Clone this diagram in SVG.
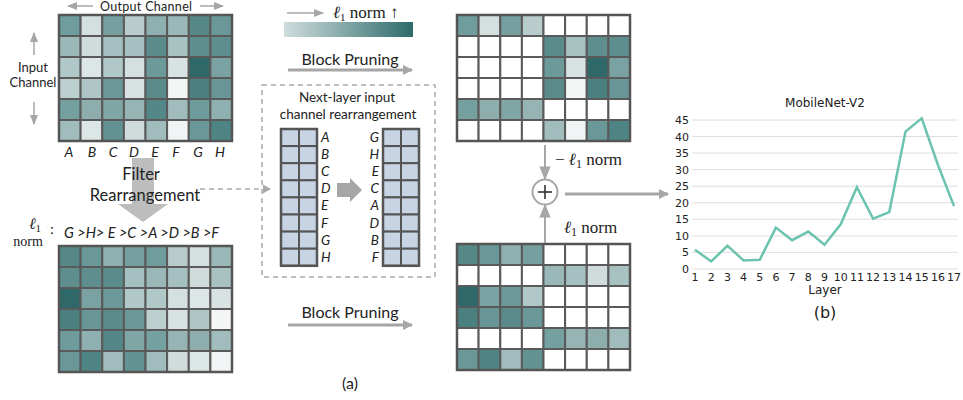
<svg xmlns="http://www.w3.org/2000/svg" width="963" height="400" viewBox="0 0 963 400">
<defs>
<style>
.c{stroke:#5a5a5a;stroke-width:2}
.b{fill:#c6d4e4;stroke:#555;stroke-width:2}
.lbl{font-family:Lato,"Liberation Sans",sans-serif;fill:#222}
.it{font-family:Lato,"Liberation Sans",sans-serif;font-style:italic;fill:#222}
.m{font-family:"Liberation Serif","DejaVu Serif",serif;fill:#222}
.ax{font-family:"DejaVu Sans",sans-serif;fill:#222}
.g{stroke:#dedede;stroke-width:1}
.ga{stroke:#a6a6a6;fill:none}
</style>
<marker id="ah" viewBox="0 0 10 10" refX="9" refY="5" markerWidth="3.4" markerHeight="3.4" orient="auto" markerUnits="strokeWidth"><path d="M0,0 L10,5 L0,10 z" fill="#a6a6a6"/></marker>
<marker id="ahs" viewBox="0 0 10 10" refX="9" refY="5" markerWidth="7" markerHeight="7" orient="auto" markerUnits="strokeWidth"><path d="M0,1 L10,5 L0,9 z" fill="#a6a6a6"/></marker>
<linearGradient id="grad" x1="0" x2="1" y1="0" y2="0"><stop offset="0" stop-color="#cfdddd"/><stop offset="1" stop-color="#2e6b6b"/></linearGradient>
</defs>
<rect width="963" height="400" fill="#fff"/>

<!-- Top-left matrix -->
<g id="matrix-original">
<text class="lbl" x="146" y="10.5" font-size="12.5" text-anchor="middle" textLength="92" lengthAdjust="spacing">Output Channel</text>
<text class="lbl" x="33" y="72" font-size="13" text-anchor="middle">Input</text>
<text class="lbl" x="33" y="87" font-size="13" text-anchor="middle">Channel</text>
<g transform="translate(59,15)">
<rect class="c" x="0" y="0" width="21.6" height="21" fill="#6f9c9c"/><rect class="c" x="21.6" y="0" width="21.6" height="21" fill="#d4e0e0"/><rect class="c" x="43.3" y="0" width="21.6" height="21" fill="#76a0a0"/><rect class="c" x="64.9" y="0" width="21.6" height="21" fill="#b8cccc"/><rect class="c" x="86.5" y="0" width="21.6" height="21" fill="#8fb0b0"/><rect class="c" x="108.1" y="0" width="21.6" height="21" fill="#9ab8b8"/><rect class="c" x="129.8" y="0" width="21.6" height="21" fill="#568888"/><rect class="c" x="151.4" y="0" width="21.6" height="21" fill="#6a9898"/>
<rect class="c" x="0" y="21" width="21.6" height="21" fill="#9ab8b8"/><rect class="c" x="21.6" y="21" width="21.6" height="21" fill="#d0dcdc"/><rect class="c" x="43.3" y="21" width="21.6" height="21" fill="#a4c0c0"/><rect class="c" x="64.9" y="21" width="21.6" height="21" fill="#a4c0c0"/><rect class="c" x="86.5" y="21" width="21.6" height="21" fill="#5a8c8c"/><rect class="c" x="108.1" y="21" width="21.6" height="21" fill="#a8c2c2"/><rect class="c" x="129.8" y="21" width="21.6" height="21" fill="#5e8e8e"/><rect class="c" x="151.4" y="21" width="21.6" height="21" fill="#5e8e8e"/>
<rect class="c" x="0" y="42" width="21.6" height="21" fill="#b0c8c8"/><rect class="c" x="21.6" y="42" width="21.6" height="21" fill="#dce6e6"/><rect class="c" x="43.3" y="42" width="21.6" height="21" fill="#b0c8c8"/><rect class="c" x="64.9" y="42" width="21.6" height="21" fill="#d4e0e0"/><rect class="c" x="86.5" y="42" width="21.6" height="21" fill="#6c9a9a"/><rect class="c" x="108.1" y="42" width="21.6" height="21" fill="#d8e2e2"/><rect class="c" x="129.8" y="42" width="21.6" height="21" fill="#2e6868"/><rect class="c" x="151.4" y="42" width="21.6" height="21" fill="#7aa2a2"/>
<rect class="c" x="0" y="63" width="21.6" height="21" fill="#bccfcf"/><rect class="c" x="21.6" y="63" width="21.6" height="21" fill="#b0c6c6"/><rect class="c" x="43.3" y="63" width="21.6" height="21" fill="#6a9898"/><rect class="c" x="64.9" y="63" width="21.6" height="21" fill="#d8e2e2"/><rect class="c" x="86.5" y="63" width="21.6" height="21" fill="#5a8a8a"/><rect class="c" x="108.1" y="63" width="21.6" height="21" fill="#f4f6f6"/><rect class="c" x="129.8" y="63" width="21.6" height="21" fill="#4a8080"/><rect class="c" x="151.4" y="63" width="21.6" height="21" fill="#689696"/>
<rect class="c" x="0" y="84" width="21.6" height="21" fill="#74a0a0"/><rect class="c" x="21.6" y="84" width="21.6" height="21" fill="#8eaeae"/><rect class="c" x="43.3" y="84" width="21.6" height="21" fill="#80a6a6"/><rect class="c" x="64.9" y="84" width="21.6" height="21" fill="#96b4b4"/><rect class="c" x="86.5" y="84" width="21.6" height="21" fill="#548888"/><rect class="c" x="108.1" y="84" width="21.6" height="21" fill="#a0bcbc"/><rect class="c" x="129.8" y="84" width="21.6" height="21" fill="#6e9c9c"/><rect class="c" x="151.4" y="84" width="21.6" height="21" fill="#8eb0b0"/>
<rect class="c" x="0" y="105" width="21.6" height="21" fill="#a0bcbc"/><rect class="c" x="21.6" y="105" width="21.6" height="21" fill="#dce6e6"/><rect class="c" x="43.3" y="105" width="21.6" height="21" fill="#629292"/><rect class="c" x="64.9" y="105" width="21.6" height="21" fill="#d0dcdc"/><rect class="c" x="86.5" y="105" width="21.6" height="21" fill="#a0bcbc"/><rect class="c" x="108.1" y="105" width="21.6" height="21" fill="#f0f4f4"/><rect class="c" x="129.8" y="105" width="21.6" height="21" fill="#6a9898"/><rect class="c" x="151.4" y="105" width="21.6" height="21" fill="#4e8484"/>
<rect x="0" y="0" width="173" height="126" fill="none" stroke="#555" stroke-width="2.5"/>
</g>
<g class="it" font-size="14" text-anchor="middle">
<text x="69" y="157">A</text><text x="92" y="157">B</text><text x="113" y="157">C</text><text x="134" y="157">D</text><text x="155" y="157">E</text><text x="176" y="157">F</text><text x="198" y="157">G</text><text x="220" y="157">H</text>
</g>
</g>

<!-- Bottom-left matrix (rearranged) -->
<g id="matrix-rearranged">
<text class="m" x="35" y="229" font-size="16" font-style="italic" text-anchor="middle">ℓ<tspan font-size="11" dy="3" font-style="normal">1</tspan></text>
<text class="m" x="28" y="246" font-size="14" text-anchor="middle">norm</text>
<text class="lbl" x="52" y="234" font-size="14" text-anchor="middle">:</text>
<text class="it" x="64" y="238" font-size="14.5">G &gt;H&gt; E &gt;C &gt;A &gt;D &gt;B &gt;F</text>
<g transform="translate(59,246)">
<rect class="c" x="0" y="0" width="21.6" height="21" fill="#568888"/><rect class="c" x="21.6" y="0" width="21.6" height="21" fill="#6a9898"/><rect class="c" x="43.3" y="0" width="21.6" height="21" fill="#8fb0b0"/><rect class="c" x="64.9" y="0" width="21.6" height="21" fill="#76a0a0"/><rect class="c" x="86.5" y="0" width="21.6" height="21" fill="#6f9c9c"/><rect class="c" x="108.1" y="0" width="21.6" height="21" fill="#b8cccc"/><rect class="c" x="129.8" y="0" width="21.6" height="21" fill="#d4e0e0"/><rect class="c" x="151.4" y="0" width="21.6" height="21" fill="#9ab8b8"/>
<rect class="c" x="0" y="21" width="21.6" height="21" fill="#5e8e8e"/><rect class="c" x="21.6" y="21" width="21.6" height="21" fill="#5e8e8e"/><rect class="c" x="43.3" y="21" width="21.6" height="21" fill="#5a8c8c"/><rect class="c" x="64.9" y="21" width="21.6" height="21" fill="#a4c0c0"/><rect class="c" x="86.5" y="21" width="21.6" height="21" fill="#9ab8b8"/><rect class="c" x="108.1" y="21" width="21.6" height="21" fill="#a4c0c0"/><rect class="c" x="129.8" y="21" width="21.6" height="21" fill="#d0dcdc"/><rect class="c" x="151.4" y="21" width="21.6" height="21" fill="#a8c2c2"/>
<rect class="c" x="0" y="42" width="21.6" height="21" fill="#2e6868"/><rect class="c" x="21.6" y="42" width="21.6" height="21" fill="#7aa2a2"/><rect class="c" x="43.3" y="42" width="21.6" height="21" fill="#6c9a9a"/><rect class="c" x="64.9" y="42" width="21.6" height="21" fill="#b0c8c8"/><rect class="c" x="86.5" y="42" width="21.6" height="21" fill="#b0c8c8"/><rect class="c" x="108.1" y="42" width="21.6" height="21" fill="#d4e0e0"/><rect class="c" x="129.8" y="42" width="21.6" height="21" fill="#dce6e6"/><rect class="c" x="151.4" y="42" width="21.6" height="21" fill="#d8e2e2"/>
<rect class="c" x="0" y="63" width="21.6" height="21" fill="#4a8080"/><rect class="c" x="21.6" y="63" width="21.6" height="21" fill="#689696"/><rect class="c" x="43.3" y="63" width="21.6" height="21" fill="#5a8a8a"/><rect class="c" x="64.9" y="63" width="21.6" height="21" fill="#6a9898"/><rect class="c" x="86.5" y="63" width="21.6" height="21" fill="#bccfcf"/><rect class="c" x="108.1" y="63" width="21.6" height="21" fill="#d8e2e2"/><rect class="c" x="129.8" y="63" width="21.6" height="21" fill="#b0c6c6"/><rect class="c" x="151.4" y="63" width="21.6" height="21" fill="#f4f6f6"/>
<rect class="c" x="0" y="84" width="21.6" height="21" fill="#6e9c9c"/><rect class="c" x="21.6" y="84" width="21.6" height="21" fill="#8eb0b0"/><rect class="c" x="43.3" y="84" width="21.6" height="21" fill="#548888"/><rect class="c" x="64.9" y="84" width="21.6" height="21" fill="#80a6a6"/><rect class="c" x="86.5" y="84" width="21.6" height="21" fill="#74a0a0"/><rect class="c" x="108.1" y="84" width="21.6" height="21" fill="#96b4b4"/><rect class="c" x="129.8" y="84" width="21.6" height="21" fill="#8eaeae"/><rect class="c" x="151.4" y="84" width="21.6" height="21" fill="#a0bcbc"/>
<rect class="c" x="0" y="105" width="21.6" height="21" fill="#6a9898"/><rect class="c" x="21.6" y="105" width="21.6" height="21" fill="#4e8484"/><rect class="c" x="43.3" y="105" width="21.6" height="21" fill="#a0bcbc"/><rect class="c" x="64.9" y="105" width="21.6" height="21" fill="#629292"/><rect class="c" x="86.5" y="105" width="21.6" height="21" fill="#a0bcbc"/><rect class="c" x="108.1" y="105" width="21.6" height="21" fill="#d0dcdc"/><rect class="c" x="129.8" y="105" width="21.6" height="21" fill="#dce6e6"/><rect class="c" x="151.4" y="105" width="21.6" height="21" fill="#f0f4f4"/>
<rect x="0" y="0" width="173" height="126" fill="none" stroke="#555" stroke-width="2.5"/>
</g>
</g>

<!-- Filter rearrangement block arrow -->
<g id="filter-rearrangement">
<polygon points="132,158 154,158 154,204 168,204 143,222 118,204 132,204" fill="#bdbdbd"/>
<text class="lbl" x="141" y="180" font-size="16.5" text-anchor="middle">Filter</text>
<text class="lbl" x="145" y="201" font-size="16.5" text-anchor="middle">Rearrangement</text>
</g>

<!-- Next-layer box -->
<g id="next-layer-box">
<rect x="262" y="85" width="173" height="192" fill="none" stroke="#aaa" stroke-width="1.5" stroke-dasharray="5,4"/>
<text class="lbl" x="347" y="102" font-size="13.5" text-anchor="middle">Next-layer input</text>
<text class="lbl" x="348" y="118.5" font-size="13.5" text-anchor="middle">channel rearrangement</text>
<g transform="translate(281,129)">
<rect class="b" x="0" y="0" width="18" height="17.1"/><rect class="b" x="18" y="0" width="18" height="17.1"/>
<rect class="b" x="0" y="17.1" width="18" height="17.1"/><rect class="b" x="18" y="17.1" width="18" height="17.1"/>
<rect class="b" x="0" y="34.2" width="18" height="17.1"/><rect class="b" x="18" y="34.2" width="18" height="17.1"/>
<rect class="b" x="0" y="51.3" width="18" height="17.1"/><rect class="b" x="18" y="51.3" width="18" height="17.1"/>
<rect class="b" x="0" y="68.4" width="18" height="17.1"/><rect class="b" x="18" y="68.4" width="18" height="17.1"/>
<rect class="b" x="0" y="85.5" width="18" height="17.1"/><rect class="b" x="18" y="85.5" width="18" height="17.1"/>
<rect class="b" x="0" y="102.6" width="18" height="17.1"/><rect class="b" x="18" y="102.6" width="18" height="17.1"/>
<rect class="b" x="0" y="119.7" width="18" height="17.1"/><rect class="b" x="18" y="119.7" width="18" height="17.1"/>
<rect x="0" y="0" width="36" height="136.8" fill="none" stroke="#555" stroke-width="2.5"/>
</g>
<g transform="translate(383,129)">
<rect class="b" x="0" y="0" width="18" height="17.1"/><rect class="b" x="18" y="0" width="18" height="17.1"/>
<rect class="b" x="0" y="17.1" width="18" height="17.1"/><rect class="b" x="18" y="17.1" width="18" height="17.1"/>
<rect class="b" x="0" y="34.2" width="18" height="17.1"/><rect class="b" x="18" y="34.2" width="18" height="17.1"/>
<rect class="b" x="0" y="51.3" width="18" height="17.1"/><rect class="b" x="18" y="51.3" width="18" height="17.1"/>
<rect class="b" x="0" y="68.4" width="18" height="17.1"/><rect class="b" x="18" y="68.4" width="18" height="17.1"/>
<rect class="b" x="0" y="85.5" width="18" height="17.1"/><rect class="b" x="18" y="85.5" width="18" height="17.1"/>
<rect class="b" x="0" y="102.6" width="18" height="17.1"/><rect class="b" x="18" y="102.6" width="18" height="17.1"/>
<rect class="b" x="0" y="119.7" width="18" height="17.1"/><rect class="b" x="18" y="119.7" width="18" height="17.1"/>
<rect x="0" y="0" width="36" height="136.8" fill="none" stroke="#555" stroke-width="2.5"/>
</g>
<g class="it" font-size="13.5">
<text x="321" y="142">A</text><text x="321" y="159">B</text><text x="321" y="176">C</text><text x="321" y="193">D</text><text x="321" y="210">E</text><text x="321" y="228">F</text><text x="321" y="245">G</text><text x="321" y="262">H</text>
</g>
<g class="it" font-size="13.5" text-anchor="end">
<text x="379" y="142">G</text><text x="379" y="159">H</text><text x="379" y="176">E</text><text x="379" y="193">C</text><text x="379" y="210">A</text><text x="379" y="228">D</text><text x="379" y="245">B</text><text x="379" y="262">F</text>
</g>
<polygon points="337,183 350,183 350,178 362,190 350,202 350,197 337,197" fill="#a6a6a6"/>
</g>

<!-- Top-right matrix (block pruned original) -->
<g id="matrix-pruned-original" transform="translate(457,15)">
<rect class="c" x="0" y="0" width="21.6" height="21" fill="#6f9c9c"/><rect class="c" x="21.6" y="0" width="21.6" height="21" fill="#d4e0e0"/><rect class="c" x="43.3" y="0" width="21.6" height="21" fill="#76a0a0"/><rect class="c" x="64.9" y="0" width="21.6" height="21" fill="#b8cccc"/><rect class="c" x="86.5" y="0" width="21.6" height="21" fill="#fff"/><rect class="c" x="108.1" y="0" width="21.6" height="21" fill="#fff"/><rect class="c" x="129.8" y="0" width="21.6" height="21" fill="#fff"/><rect class="c" x="151.4" y="0" width="21.6" height="21" fill="#fff"/>
<rect class="c" x="0" y="21" width="21.6" height="21" fill="#fff"/><rect class="c" x="21.6" y="21" width="21.6" height="21" fill="#fff"/><rect class="c" x="43.3" y="21" width="21.6" height="21" fill="#fff"/><rect class="c" x="64.9" y="21" width="21.6" height="21" fill="#fff"/><rect class="c" x="86.5" y="21" width="21.6" height="21" fill="#5a8c8c"/><rect class="c" x="108.1" y="21" width="21.6" height="21" fill="#a8c2c2"/><rect class="c" x="129.8" y="21" width="21.6" height="21" fill="#5e8e8e"/><rect class="c" x="151.4" y="21" width="21.6" height="21" fill="#5e8e8e"/>
<rect class="c" x="0" y="42" width="21.6" height="21" fill="#fff"/><rect class="c" x="21.6" y="42" width="21.6" height="21" fill="#fff"/><rect class="c" x="43.3" y="42" width="21.6" height="21" fill="#fff"/><rect class="c" x="64.9" y="42" width="21.6" height="21" fill="#fff"/><rect class="c" x="86.5" y="42" width="21.6" height="21" fill="#6c9a9a"/><rect class="c" x="108.1" y="42" width="21.6" height="21" fill="#d8e2e2"/><rect class="c" x="129.8" y="42" width="21.6" height="21" fill="#2e6868"/><rect class="c" x="151.4" y="42" width="21.6" height="21" fill="#7aa2a2"/>
<rect class="c" x="0" y="63" width="21.6" height="21" fill="#fff"/><rect class="c" x="21.6" y="63" width="21.6" height="21" fill="#fff"/><rect class="c" x="43.3" y="63" width="21.6" height="21" fill="#fff"/><rect class="c" x="64.9" y="63" width="21.6" height="21" fill="#fff"/><rect class="c" x="86.5" y="63" width="21.6" height="21" fill="#5a8a8a"/><rect class="c" x="108.1" y="63" width="21.6" height="21" fill="#f4f6f6"/><rect class="c" x="129.8" y="63" width="21.6" height="21" fill="#4a8080"/><rect class="c" x="151.4" y="63" width="21.6" height="21" fill="#689696"/>
<rect class="c" x="0" y="84" width="21.6" height="21" fill="#74a0a0"/><rect class="c" x="21.6" y="84" width="21.6" height="21" fill="#8eaeae"/><rect class="c" x="43.3" y="84" width="21.6" height="21" fill="#80a6a6"/><rect class="c" x="64.9" y="84" width="21.6" height="21" fill="#96b4b4"/><rect class="c" x="86.5" y="84" width="21.6" height="21" fill="#fff"/><rect class="c" x="108.1" y="84" width="21.6" height="21" fill="#fff"/><rect class="c" x="129.8" y="84" width="21.6" height="21" fill="#fff"/><rect class="c" x="151.4" y="84" width="21.6" height="21" fill="#fff"/>
<rect class="c" x="0" y="105" width="21.6" height="21" fill="#fff"/><rect class="c" x="21.6" y="105" width="21.6" height="21" fill="#fff"/><rect class="c" x="43.3" y="105" width="21.6" height="21" fill="#fff"/><rect class="c" x="64.9" y="105" width="21.6" height="21" fill="#fff"/><rect class="c" x="86.5" y="105" width="21.6" height="21" fill="#a0bcbc"/><rect class="c" x="108.1" y="105" width="21.6" height="21" fill="#f0f4f4"/><rect class="c" x="129.8" y="105" width="21.6" height="21" fill="#6a9898"/><rect class="c" x="151.4" y="105" width="21.6" height="21" fill="#4e8484"/>
<rect x="0" y="0" width="173" height="126" fill="none" stroke="#555" stroke-width="2.5"/>
</g>

<!-- Bottom-right matrix (block pruned rearranged) -->
<g id="matrix-pruned-rearranged" transform="translate(457,244)">
<rect class="c" x="0" y="0" width="21.6" height="21" fill="#568888"/><rect class="c" x="21.6" y="0" width="21.6" height="21" fill="#6a9898"/><rect class="c" x="43.3" y="0" width="21.6" height="21" fill="#8fb0b0"/><rect class="c" x="64.9" y="0" width="21.6" height="21" fill="#76a0a0"/><rect class="c" x="86.5" y="0" width="21.6" height="21" fill="#fff"/><rect class="c" x="108.1" y="0" width="21.6" height="21" fill="#fff"/><rect class="c" x="129.8" y="0" width="21.6" height="21" fill="#fff"/><rect class="c" x="151.4" y="0" width="21.6" height="21" fill="#fff"/>
<rect class="c" x="0" y="21" width="21.6" height="21" fill="#fff"/><rect class="c" x="21.6" y="21" width="21.6" height="21" fill="#fff"/><rect class="c" x="43.3" y="21" width="21.6" height="21" fill="#fff"/><rect class="c" x="64.9" y="21" width="21.6" height="21" fill="#fff"/><rect class="c" x="86.5" y="21" width="21.6" height="21" fill="#9ab8b8"/><rect class="c" x="108.1" y="21" width="21.6" height="21" fill="#a4c0c0"/><rect class="c" x="129.8" y="21" width="21.6" height="21" fill="#d0dcdc"/><rect class="c" x="151.4" y="21" width="21.6" height="21" fill="#a8c2c2"/>
<rect class="c" x="0" y="42" width="21.6" height="21" fill="#2e6868"/><rect class="c" x="21.6" y="42" width="21.6" height="21" fill="#7aa2a2"/><rect class="c" x="43.3" y="42" width="21.6" height="21" fill="#6c9a9a"/><rect class="c" x="64.9" y="42" width="21.6" height="21" fill="#b0c8c8"/><rect class="c" x="86.5" y="42" width="21.6" height="21" fill="#fff"/><rect class="c" x="108.1" y="42" width="21.6" height="21" fill="#fff"/><rect class="c" x="129.8" y="42" width="21.6" height="21" fill="#fff"/><rect class="c" x="151.4" y="42" width="21.6" height="21" fill="#fff"/>
<rect class="c" x="0" y="63" width="21.6" height="21" fill="#4a8080"/><rect class="c" x="21.6" y="63" width="21.6" height="21" fill="#689696"/><rect class="c" x="43.3" y="63" width="21.6" height="21" fill="#5a8a8a"/><rect class="c" x="64.9" y="63" width="21.6" height="21" fill="#6a9898"/><rect class="c" x="86.5" y="63" width="21.6" height="21" fill="#fff"/><rect class="c" x="108.1" y="63" width="21.6" height="21" fill="#fff"/><rect class="c" x="129.8" y="63" width="21.6" height="21" fill="#fff"/><rect class="c" x="151.4" y="63" width="21.6" height="21" fill="#fff"/>
<rect class="c" x="0" y="84" width="21.6" height="21" fill="#fff"/><rect class="c" x="21.6" y="84" width="21.6" height="21" fill="#fff"/><rect class="c" x="43.3" y="84" width="21.6" height="21" fill="#fff"/><rect class="c" x="64.9" y="84" width="21.6" height="21" fill="#fff"/><rect class="c" x="86.5" y="84" width="21.6" height="21" fill="#74a0a0"/><rect class="c" x="108.1" y="84" width="21.6" height="21" fill="#96b4b4"/><rect class="c" x="129.8" y="84" width="21.6" height="21" fill="#8eaeae"/><rect class="c" x="151.4" y="84" width="21.6" height="21" fill="#a0bcbc"/>
<rect class="c" x="0" y="105" width="21.6" height="21" fill="#6a9898"/><rect class="c" x="21.6" y="105" width="21.6" height="21" fill="#4e8484"/><rect class="c" x="43.3" y="105" width="21.6" height="21" fill="#a0bcbc"/><rect class="c" x="64.9" y="105" width="21.6" height="21" fill="#629292"/><rect class="c" x="86.5" y="105" width="21.6" height="21" fill="#fff"/><rect class="c" x="108.1" y="105" width="21.6" height="21" fill="#fff"/><rect class="c" x="129.8" y="105" width="21.6" height="21" fill="#fff"/><rect class="c" x="151.4" y="105" width="21.6" height="21" fill="#fff"/>
<rect x="0" y="0" width="173" height="126" fill="none" stroke="#555" stroke-width="2.5"/>
</g>

<!-- Legend (l1 norm gradient) -->
<g id="legend">
<line class="ga" x1="287" y1="13" x2="323" y2="13" stroke-width="1.5" marker-end="url(#ahs)"/>
<text class="m" x="333" y="18" font-size="17"><tspan font-style="italic">ℓ</tspan><tspan font-size="11" dy="3">1</tspan><tspan dy="-3"> norm ↑</tspan></text>
<rect x="284" y="22" width="129" height="15" fill="url(#grad)"/>
</g>

<!-- Plus node -->
<g id="sum-node">
<circle cx="545" cy="192" r="12.5" fill="#fff" stroke="#a6a6a6" stroke-width="2"/>
<line x1="538" y1="192" x2="552" y2="192" stroke="#333" stroke-width="1.6"/>
<line x1="545" y1="185" x2="545" y2="199" stroke="#333" stroke-width="1.6"/>
</g>

<!-- Connectors -->
<g id="connectors">
<line class="ga" x1="34" y1="55" x2="34" y2="33" stroke-width="1.5" marker-end="url(#ahs)"/>
<line class="ga" x1="34" y1="102" x2="34" y2="124" stroke-width="1.5" marker-end="url(#ahs)"/>
<line class="ga" x1="93" y1="6" x2="68" y2="6" stroke-width="1.5" marker-end="url(#ahs)"/>
<line class="ga" x1="200" y1="6" x2="223" y2="6" stroke-width="1.5" marker-end="url(#ahs)"/>
<line x1="200" y1="189" x2="264" y2="189" stroke="#aaa" stroke-width="1.5" stroke-dasharray="5,4"/>
<polygon points="263,184.5 271,189 263,193.5" fill="#aaa"/>
<text class="lbl" x="350" y="65" font-size="16" text-anchor="middle">Block Pruning</text>
<line class="ga" x1="288" y1="70" x2="412" y2="70" stroke-width="3" marker-end="url(#ah)"/>
<text class="lbl" x="350" y="318" font-size="16" text-anchor="middle">Block Pruning</text>
<line class="ga" x1="288" y1="325" x2="412" y2="325" stroke-width="3" marker-end="url(#ah)"/>
<line class="ga" x1="545" y1="145" x2="545" y2="179" stroke-width="2" marker-end="url(#ahs)"/>
<line class="ga" x1="545" y1="243" x2="545" y2="205" stroke-width="2" marker-end="url(#ahs)"/>
<line class="ga" x1="565" y1="194" x2="668" y2="194" stroke-width="3" marker-end="url(#ah)"/>
<text class="m" x="555" y="165" font-size="17">− <tspan font-style="italic">ℓ</tspan><tspan font-size="12" dy="3">1</tspan><tspan dy="-3"> norm</tspan></text>
<text class="m" x="564" y="233" font-size="17"><tspan font-style="italic">ℓ</tspan><tspan font-size="12" dy="3">1</tspan><tspan dy="-3"> norm</tspan></text>
</g>

<text class="lbl" x="350" y="389" font-size="16" text-anchor="middle">(a)</text>

<!-- Chart -->
<g id="chart">
<text class="ax" x="825" y="107" font-size="12" text-anchor="middle">MobileNet-V2</text>
<g>
<line class="g" x1="692" y1="269" x2="958" y2="269"/>
<line class="g" x1="692" y1="252.4" x2="958" y2="252.4"/>
<line class="g" x1="692" y1="235.9" x2="958" y2="235.9"/>
<line class="g" x1="692" y1="219.3" x2="958" y2="219.3"/>
<line class="g" x1="692" y1="202.8" x2="958" y2="202.8"/>
<line class="g" x1="692" y1="186.2" x2="958" y2="186.2"/>
<line class="g" x1="692" y1="169.6" x2="958" y2="169.6"/>
<line class="g" x1="692" y1="153.1" x2="958" y2="153.1"/>
<line class="g" x1="692" y1="136.5" x2="958" y2="136.5"/>
<line class="g" x1="692" y1="120" x2="958" y2="120"/>
</g>
<g class="ax" font-size="11" text-anchor="end">
<text x="689" y="273">0</text><text x="689" y="256.4">5</text><text x="689" y="239.9">10</text><text x="689" y="223.3">15</text><text x="689" y="206.8">20</text><text x="689" y="190.2">25</text><text x="689" y="173.6">30</text><text x="689" y="157.1">35</text><text x="689" y="140.5">40</text><text x="689" y="124">45</text>
</g>
<g class="ax" font-size="11" text-anchor="middle">
<text x="695" y="281">1</text><text x="711.2" y="281">2</text><text x="727.4" y="281">3</text><text x="743.6" y="281">4</text><text x="759.8" y="281">5</text><text x="775.9" y="281">6</text><text x="792.1" y="281">7</text><text x="808.3" y="281">8</text><text x="824.5" y="281">9</text><text x="840.7" y="281">10</text><text x="856.9" y="281">11</text><text x="873.1" y="281">12</text><text x="889.3" y="281">13</text><text x="905.5" y="281">14</text><text x="921.7" y="281">15</text><text x="937.9" y="281">16</text><text x="954" y="281">17</text>
</g>
<text class="ax" x="825" y="294" font-size="12" text-anchor="middle">Layer</text>
<polyline fill="none" stroke="#6cc3b0" stroke-width="2.5" stroke-linejoin="miter" points="695,249.8 711.2,261.4 727.4,245.8 743.6,260.4 759.8,259.7 775.9,227.6 792.1,240.2 808.3,231.6 824.5,244.8 840.7,224.3 856.9,187.2 873.1,218.7 889.3,212.1 905.5,131.6 921.7,118.4 937.9,164.7 954,206.1"/>
<text class="ax" x="825" y="318" font-size="16" text-anchor="middle">(b)</text>
</g>
</svg>
